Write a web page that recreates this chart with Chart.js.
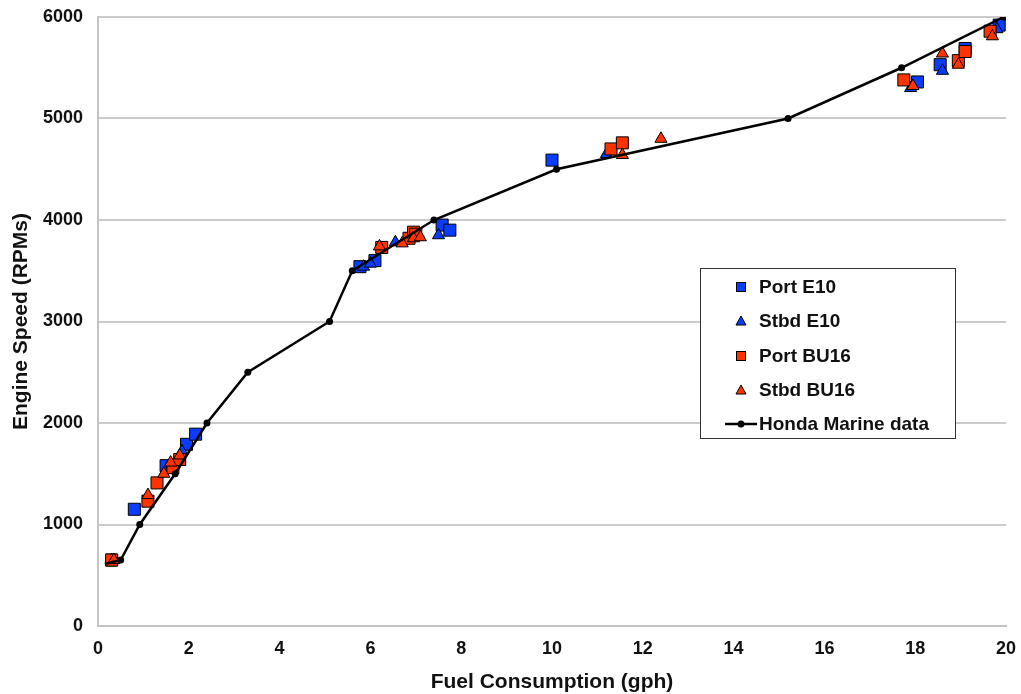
<!DOCTYPE html>
<html>
<head>
<meta charset="utf-8">
<script src="https://cdn.jsdelivr.net/npm/chart.js@4/dist/chart.umd.min.js"></script>
<style>
  html, body { margin: 0; padding: 0; background: #fff; }
  #wrap { width: 1021px; height: 694px; }
</style>
</head>
<body>
<div id="wrap"><canvas id="chart" width="1021" height="694"></canvas></div>
<script>
// fuel consumption (gph) vs engine speed (RPM)
const portE10X = [0.3, 0.8, 1.5, 1.95, 2.15, 5.77, 6.1, 7.58, 7.75, 10.0, 18.05, 18.55, 19.1, 19.85];
const portE10Y = [650, 1150, 1580, 1790, 1890, 3540, 3600, 3950, 3900, 4590, 5360, 5530, 5690, 5920];

const stbdE10X = [0.3, 1.6, 1.85, 5.85, 6.0, 6.55, 7.5, 11.2, 17.9, 18.6, 19.8];
const stbdE10Y = [650, 1560, 1720, 3540, 3570, 3780, 3850, 4650, 5300, 5470, 5880];

const portBU16X = [0.3, 1.1, 1.3, 1.65, 1.8, 6.25, 6.85, 6.95, 7.0, 11.3, 11.55, 17.75, 18.95, 19.1, 19.65];
const portBU16Y = [650, 1230, 1410, 1560, 1640, 3730, 3820, 3880, 3860, 4700, 4760, 5380, 5570, 5660, 5860];

const stbdBU16X = [0.35, 1.1, 1.45, 1.6, 1.8, 6.2, 6.7, 6.95, 7.1, 11.55, 12.4, 17.95, 18.6, 18.95, 19.7];
const stbdBU16Y = [650, 1290, 1500, 1610, 1680, 3740, 3770, 3820, 3830, 4640, 4800, 5320, 5640, 5530, 5810];

const hondaX = [0.15, 0.5, 0.92, 1.7, 2.4, 3.3, 5.1, 5.6, 7.4, 10.1, 15.2, 17.7, 19.95];
const hondaY = [610, 650, 1000, 1500, 2000, 2500, 3000, 3500, 4000, 4500, 5000, 5500, 6000];

const xTicks = [0, 2, 4, 6, 8, 10, 12, 14, 16, 18, 20];
const yTicks = [0, 1000, 2000, 3000, 4000, 5000, 6000];

const BLUE = "#0a3cff";
const RED = "#ff3300";
const FONT = "'Liberation Sans', Arial, sans-serif";

function pts(xs, ys) {
  return xs.map((x, i) => ({ x: x, y: ys[i] }));
}

// legend drawn inside the plot, like the original
const boxLegend = {
  id: "boxLegend",
  afterDraw(chart) {
    const ctx = chart.ctx;
    const left = 700, top = 268, w = 255, h = 170;
    ctx.save();
    ctx.fillStyle = "#fff";
    ctx.fillRect(left, top, w, h);
    ctx.strokeStyle = "#333";
    ctx.lineWidth = 1;
    ctx.strokeRect(left + 0.5, top + 0.5, w, h);
    ctx.font = "bold 19px " + FONT;
    ctx.textBaseline = "middle";
    ctx.textAlign = "left";
    const rows = [287, 321, 356, 390, 424];
    chart.data.datasets.forEach((ds, i) => {
      const y = rows[i];
      const mx = 741;
      ctx.fillStyle = ds.backgroundColor;
      ctx.strokeStyle = "#000";
      ctx.lineWidth = 1;
      if (ds.pointStyle === "rect") {
        ctx.fillRect(mx - 4.5, y - 4.5, 9, 9);
        ctx.strokeRect(mx - 4.5, y - 4.5, 9, 9);
      } else if (ds.pointStyle === "triangle") {
        ctx.beginPath();
        ctx.moveTo(mx, y - 5);
        ctx.lineTo(mx + 5, y + 4);
        ctx.lineTo(mx - 5, y + 4);
        ctx.closePath();
        ctx.fill();
        ctx.stroke();
      } else {
        ctx.strokeStyle = "#000";
        ctx.lineWidth = 2.5;
        ctx.beginPath();
        ctx.moveTo(725, y);
        ctx.lineTo(757, y);
        ctx.stroke();
        ctx.fillStyle = "#000";
        ctx.beginPath();
        ctx.arc(mx, y, 3.5, 0, Math.PI * 2);
        ctx.fill();
      }
      ctx.fillStyle = "#111";
      ctx.fillText(ds.label, 759, y + 1);
    });
    ctx.restore();
  }
};

const ctx = document.getElementById("chart").getContext("2d");
new Chart(ctx, {
  type: "scatter",
  data: {
    datasets: [
      {
        label: "Port E10",
        data: pts(portE10X, portE10Y),
        pointStyle: "rect",
        pointRadius: 8.5,
        backgroundColor: BLUE,
        borderColor: "#000",
        borderWidth: 1,
        order: 4
      },
      {
        label: "Stbd E10",
        data: pts(stbdE10X, stbdE10Y),
        pointStyle: "triangle",
        pointRadius: 7,
        backgroundColor: BLUE,
        borderColor: "#000",
        borderWidth: 1,
        order: 3
      },
      {
        label: "Port BU16",
        data: pts(portBU16X, portBU16Y),
        pointStyle: "rect",
        pointRadius: 8.5,
        backgroundColor: RED,
        borderColor: "#000",
        borderWidth: 1,
        order: 2
      },
      {
        label: "Stbd BU16",
        data: pts(stbdBU16X, stbdBU16Y),
        pointStyle: "triangle",
        pointRadius: 7,
        backgroundColor: RED,
        borderColor: "#000",
        borderWidth: 1,
        order: 1
      },
      {
        label: "Honda Marine data",
        data: pts(hondaX, hondaY),
        showLine: true,
        pointStyle: "circle",
        pointRadius: (c) => (c.dataIndex === 0 ? 0 : 3.5),
        backgroundColor: "#000",
        borderColor: "#000",
        borderWidth: 2.5,
        pointBorderWidth: 0,
        order: 0
      }
    ]
  },
  options: {
    responsive: false,
    animation: false,
    events: [],
    layout: { padding: { top: 17, right: 15, left: 0, bottom: 0 } },
    plugins: {
      legend: { display: false },
      tooltip: { enabled: false }
    },
    scales: {
      x: {
        type: "linear",
        min: 0,
        max: 20,
        afterBuildTicks: (scale) => { scale.ticks = xTicks.map((v) => ({ value: v })); },
        afterFit: (scale) => {
          scale.height = 68;
          scale.paddingLeft = 0;
          scale.paddingRight = 0;
        },
        grid: { display: false, drawTicks: false },
        border: { display: true, color: "#c4c4c4", width: 2 },
        ticks: {
          padding: 12,
          color: "#111",
          callback: (v) => String(v),
          font: { family: FONT, size: 18, weight: "bold" }
        },
        title: {
          display: true,
          text: "Fuel Consumption (gph)",
          color: "#111",
          padding: { top: 0, bottom: 0 },
          font: { family: FONT, size: 21, weight: "bold", lineHeight: 1.1 }
        }
      },
      y: {
        type: "linear",
        min: 0,
        max: 6000,
        afterBuildTicks: (scale) => { scale.ticks = yTicks.map((v) => ({ value: v })); },
        afterFit: (scale) => {
          scale.width = 98;
          scale.paddingTop = 0;
          scale.paddingBottom = 0;
        },
        grid: { color: "#cccccc", lineWidth: 2, drawTicks: false },
        border: { display: true, color: "#c4c4c4", width: 2 },
        ticks: {
          padding: 15,
          color: "#111",
          callback: (v) => String(v),
          font: { family: FONT, size: 18, weight: "bold" }
        },
        title: {
          display: true,
          text: "Engine Speed (RPMs)",
          color: "#111",
          padding: { top: 10, bottom: 0 },
          font: { family: FONT, size: 21, weight: "bold", lineHeight: 1.1 }
        }
      }
    }
  },
  plugins: [boxLegend]
});
</script>
</body>
</html>
